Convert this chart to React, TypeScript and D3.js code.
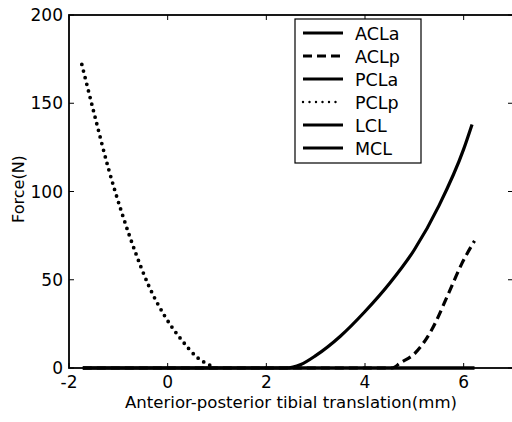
import React from "react";
import * as d3 from "d3";

const xTicks = [-2, 0, 2, 4, 6];
const yTicks = [0, 50, 100, 150, 200];

const zeroX = [-1.72, 6.22];
const zeroY = [0, 0];

const pclpX = [-1.74, -1.47, -1.2, -0.93, -0.66, -0.39, -0.05, 0.28, 0.6, 0.86];
const pclpY = [172, 142, 113, 88, 66, 47, 29, 16, 6, 1.5];

const pclaX = [-1.72, 2.4, 2.7, 3.0, 3.5, 4.0, 4.5, 5.0, 5.5, 6.0, 6.17];
const pclaY = [0, 0, 2, 7, 18, 32, 48, 67, 92, 124, 138];

const aclpX = [-1.72, 4.55, 4.72, 5.0, 5.35, 5.69, 5.96, 6.22];
const aclpY = [0, 0, 3, 8, 21.5, 42, 59, 72];

const legendNames = ["ACLa", "ACLp", "PCLa", "PCLp", "LCL", "MCL"];
const legendDash = ["", "9 5", "", "0 6.5", "", ""];

const W = 512;
const H = 422;
const M = { left: 69, right: 513, top: 15, bottom: 368 };
const FONT = "'DejaVu Sans', sans-serif";

export default function App() {
  const x = d3.scaleLinear().domain([-2, 7]).range([M.left, M.right]);
  const y = d3.scaleLinear().domain([0, 200]).range([M.bottom, M.top]);
  const line = d3
    .line<[number, number]>()
    .x((d) => x(d[0]))
    .y((d) => y(d[1]))
    .curve(d3.curveMonotoneX);
  const pts = (xs: number[], ys: number[]) =>
    xs.map((v, i) => [v, ys[i]] as [number, number]);

  const series = [
    { d: line(pts(zeroX, zeroY)), dash: "", w: 3.4, cap: "butt" },
    { d: line(pts(pclaX, pclaY)), dash: "", w: 3.2, cap: "butt" },
    { d: line(pts(aclpX, aclpY)), dash: "9 5", w: 3.2, cap: "butt" },
    { d: line(pts(pclpX, pclpY)), dash: "0 6.8", w: 3.8, cap: "round" },
  ];

  const legX = 295;
  const legY = 19;
  const legW = 126;
  const legH = 144;
  const rowStep = 23;

  return (
    <svg
      width={W}
      height={H}
      style={{ position: "absolute", left: 0, top: 0, background: "#fff" }}
      fontFamily={FONT}
    >
      <rect x={0} y={0} width={W} height={H} fill="#fff" />
      {series.map((s, i) => (
        <path
          key={i}
          d={s.d || ""}
          fill="none"
          stroke="#000"
          strokeWidth={s.w}
          strokeDasharray={s.dash || undefined}
          strokeLinecap={s.cap as any}
        />
      ))}
      <rect
        x={M.left}
        y={M.top}
        width={M.right - M.left}
        height={M.bottom - M.top}
        fill="none"
        stroke="#000"
        strokeWidth={1.8}
      />
      {xTicks.map((t) => (
        <g key={"x" + t}>
          <line x1={x(t)} x2={x(t)} y1={M.bottom} y2={M.bottom - 5} stroke="#000" strokeWidth={1} />
          <line x1={x(t)} x2={x(t)} y1={M.top} y2={M.top + 5} stroke="#000" strokeWidth={1} />
          <text x={x(t)} y={388} textAnchor="middle" fontSize={17}>
            {t}
          </text>
        </g>
      ))}
      {yTicks.map((t) => (
        <g key={"y" + t}>
          <line x1={M.left} x2={M.left + 5} y1={y(t)} y2={y(t)} stroke="#000" strokeWidth={1} />
          <line x1={M.right} x2={M.right - 5} y1={y(t)} y2={y(t)} stroke="#000" strokeWidth={1} />
          <text x={M.left - 6} y={y(t) + 6} textAnchor="end" fontSize={17}>
            {t}
          </text>
        </g>
      ))}
      <text
        x={291}
        y={408}
        textAnchor="middle"
        fontSize={16.5}
        textLength={332}
        lengthAdjust="spacingAndGlyphs"
      >
        Anterior-posterior tibial translation(mm)
      </text>
      <text transform={`translate(24,189) rotate(-90)`} textAnchor="middle" fontSize={16}>
        Force(N)
      </text>
      <rect x={legX} y={legY} width={legW} height={legH} fill="#fff" stroke="#000" strokeWidth={1.2} />
      {legendNames.map((n, i) => {
        const ry = legY + 14 + i * rowStep;
        return (
          <g key={n}>
            <line
              x1={303}
              x2={i === 3 ? 340 : 343}
              y1={ry}
              y2={ry}
              stroke="#000"
              strokeWidth={i === 3 ? 2.4 : 3.2}
              strokeDasharray={legendDash[i] || undefined}
              strokeLinecap={i === 3 ? "round" : "butt"}
            />
            <text x={355} y={ry + 6.5} fontSize={17.5}>
              {n}
            </text>
          </g>
        );
      })}
    </svg>
  );
}
